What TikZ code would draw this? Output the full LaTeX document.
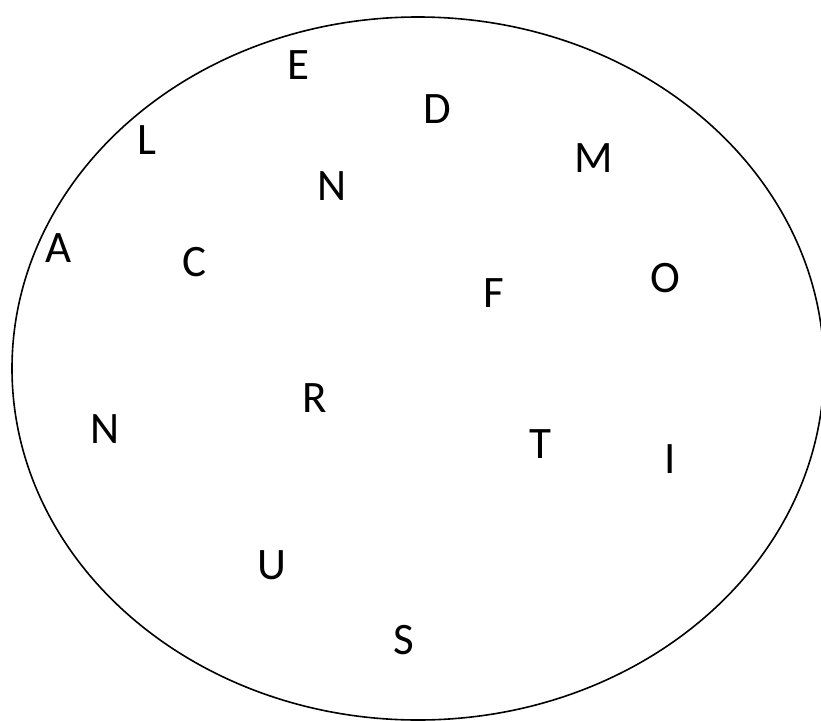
\documentclass[tikz,border=0pt]{standalone}
\usepackage{fontspec}
\setmainfont{Carlito}
\begin{document}
\begin{tikzpicture}[x=1pt,y=-1pt,
  letter/.style={anchor=base,inner sep=0pt,font=\fontsize{45}{54}\selectfont},
  rim/.style={draw=black,line width=1.6pt}]
\useasboundingbox (0,0) rectangle (821,720);
\draw[rim] (418,368.5) ellipse [x radius=406, y radius=351.5];
\node[letter] (e)  at (298.5,79)  {E};
\node[letter] (d)  at (437.5,123) {D};
\node[letter] (l)  at (147,154)   {L};
\node[letter] (m)  at (594,172)   {M};
\node[letter] (n1) at (332,200)   {N};
\node[letter] (a)  at (59,262)    {A};
\node[letter] (c)  at (194,276)   {C};
\node[letter] (f)  at (494,307)   {F};
\node[letter] (o)  at (665.5,292) {O};
\node[letter] (r)  at (315,412)   {R};
\node[letter] (n2) at (105,443)   {N};
\node[letter] (t)  at (540.5,458) {T};
\node[letter] (i)  at (670.5,473) {I};
\node[letter] (u)  at (271.5,579) {U};
\node[letter] (s)  at (403.5,654) {S};
\end{tikzpicture}
\end{document}
